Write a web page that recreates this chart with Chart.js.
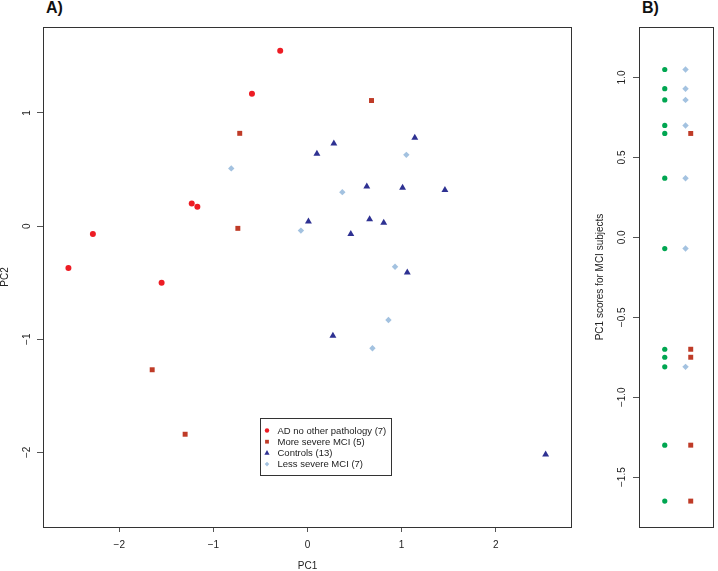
<!DOCTYPE html>
<html>
<head>
<meta charset="utf-8">
<script src="https://cdn.jsdelivr.net/npm/chart.js@4.4.1/dist/chart.umd.min.js"></script>
<style>
  body { margin: 0; background: #fff; width: 718px; height: 571px; overflow: hidden; }
  .panel { position: absolute; top: 0; }
  #wrapA { left: 0; width: 600px; height: 571px; }
  #wrapB { left: 588px; width: 130px; height: 571px; }
  .tag { position: absolute; top: 0; font: bold 16px/16px "Liberation Sans", Arial, sans-serif; color: #111; }
</style>
</head>
<body>
<div class="tag" style="left:46px">A)</div>
<div class="tag" style="left:642px">B)</div>
<div class="panel" id="wrapA"><canvas id="chartA" width="600" height="571"></canvas></div>
<div class="panel" id="wrapB"><canvas id="chartB" width="130" height="571"></canvas></div>
<script>
// --- Painel A: PCA (PC1 x PC2) ---
const groupLabels = ['AD no other pathology (7)', 'More severe MCI (5)', 'Controls (13)', 'Less severe MCI (7)'];

const adX = [-0.29, -0.59, -1.23, -1.17, -2.28, -2.54, -1.55];
const adY = [1.55, 1.17, 0.20, 0.17, -0.07, -0.37, -0.50];

const moreX = [-0.72, -0.74, 0.68, -1.65, -1.30];
const moreY = [0.82, -0.02, 1.11, -1.27, -1.84];

const ctrlX = [0.10, 0.28, 0.01, 0.46, 1.14, 0.63, 1.01, 1.46, 0.66, 0.81, 1.06, 0.27, 2.53];
const ctrlY = [0.64, 0.73, 0.04, -0.07, 0.78, 0.35, 0.34, 0.32, 0.06, 0.03, -0.41, -0.97, -2.02];

const lessX = [-0.81, 0.37, -0.07, 1.05, 0.93, 0.86, 0.69];
const lessY = [0.51, 0.30, -0.04, 0.63, -0.36, -0.83, -1.08];

const pcTicksX = [-2, -1, 0, 1, 2];
const pcTicksY = [-2, -1, 0, 1];

// --- Painel B: scores PC1 dos sujeitos MCI ---
const stripPos = [1, 2, 2.25];   // verde, menos severo, mais severo
const mciAll = [1.05, 0.93, 0.86, 0.70, 0.65, 0.37, -0.07, -0.70, -0.75, -0.81, -1.30, -1.65];
const mciLess = [1.05, 0.93, 0.86, 0.70, 0.37, -0.07, -0.81];
const mciMore = [0.65, -0.70, -0.75, -1.30, -1.65];
const stripTicks = [-1.5, -1.0, -0.5, 0.0, 0.5, 1.0];

const FONT = '"Liberation Sans", Arial, Helvetica, sans-serif';
Chart.defaults.font.family = FONT;
Chart.defaults.color = '#222';

const COR_AD = '#ed1c24';
const COR_MORE = '#bf3b27';
const COR_CTRL = '#2e3192';
const COR_LESS = '#a3c2e0';
const COR_ALL = '#00a651';

function fmt(v, dec) {
    return (v < 0 ? '\u2212' : '') + Math.abs(v).toFixed(dec);
}

function pares(xs, ys) {
    return xs.map((x, i) => ({ x: x, y: ys[i] }));
}

// desenha um marcador simples (usado na legenda)
function marcador(ctx, estilo, x, y, r, cor) {
    ctx.fillStyle = cor;
    ctx.beginPath();
    if (estilo === 'circle') {
        ctx.arc(x, y, r, 0, Math.PI * 2);
    } else if (estilo === 'rect') {
        ctx.rect(x - r, y - r, 2 * r, 2 * r);
    } else if (estilo === 'triangle') {
        ctx.moveTo(x, y - r * 1.1);
        ctx.lineTo(x + r, y + r * 0.7);
        ctx.lineTo(x - r, y + r * 0.7);
        ctx.closePath();
    } else {
        ctx.moveTo(x, y - r);
        ctx.lineTo(x + r, y);
        ctx.lineTo(x, y + r);
        ctx.lineTo(x - r, y);
        ctx.closePath();
    }
    ctx.fill();
}

// moldura em volta da area e rotulos do eixo y girados (estilo R)
const moldura = {
    id: 'moldura',
    afterDraw(chart, args, o) {
        const { ctx, chartArea: a, scales } = chart;
        ctx.save();
        ctx.strokeStyle = '#333';
        ctx.lineWidth = 1;
        ctx.strokeRect(Math.round(a.left) + 0.5, Math.round(a.top) + 0.5,
            Math.round(a.right - a.left) - 1, Math.round(a.bottom - a.top));
        ctx.fillStyle = '#222';
        ctx.font = '10px ' + FONT;
        ctx.textAlign = 'center';
        ctx.textBaseline = 'middle';
        o.ticks.forEach(v => {
            const y = scales.y.getPixelForValue(v);
            ctx.save();
            ctx.translate(o.labelX, y);
            ctx.rotate(-Math.PI / 2);
            ctx.fillText(fmt(v, o.dec), 0, 0);
            ctx.restore();
        });
        ctx.restore();
    }
};

// legenda dentro do grafico, ancorada em coordenadas dos dados
const legendaBox = {
    id: 'legendaBox',
    afterDraw(chart, args, o) {
        const { ctx, scales } = chart;
        const left = Math.round(scales.x.getPixelForValue(o.at[0])) + 0.5;
        const top = Math.round(scales.y.getPixelForValue(o.at[1])) + 0.5;
        ctx.save();
        ctx.font = '9.5px ' + FONT;
        const sets = chart.data.datasets;
        const textW = Math.max(...sets.map(d => ctx.measureText(d.label).width));
        const w = Math.round(17 + textW + 5);
        const h = 57;
        ctx.fillStyle = '#fff';
        ctx.fillRect(left, top, w, h);
        ctx.strokeStyle = '#333';
        ctx.lineWidth = 1;
        ctx.strokeRect(left, top, w, h);
        sets.forEach((d, i) => {
            const cy = top + 12 + i * 11.2;
            marcador(ctx, d.pointStyle, left + 6.5, cy, o.sizes[i], d.backgroundColor);
            ctx.fillStyle = '#222';
            ctx.textAlign = 'left';
            ctx.textBaseline = 'middle';
            ctx.fillText(d.label, left + 17, cy + 0.5);
        });
        ctx.restore();
    }
};

const eixoY = (min, max, ticks, largura, titulo, padTitulo) => ({
    type: 'linear',
    min: min,
    max: max,
    afterBuildTicks: s => { s.ticks = ticks.map(v => ({ value: v })); },
    afterFit: s => { s.width = largura; },
    ticks: { display: false },
    grid: { display: true, drawOnChartArea: false, drawTicks: true, tickLength: 6, color: '#555' },
    border: { display: false },
    title: { display: true, text: titulo, font: { size: 10, lineHeight: 1 }, color: '#222', padding: { top: padTitulo, bottom: 0 } }
});

new Chart(document.getElementById('chartA'), {
    type: 'scatter',
    data: {
        datasets: [
            { label: groupLabels[0], data: pares(adX, adY), pointStyle: 'circle', pointRadius: 3, backgroundColor: COR_AD, borderWidth: 0 },
            { label: groupLabels[1], data: pares(moreX, moreY), pointStyle: 'rect', pointRadius: 3.5, backgroundColor: COR_MORE, borderWidth: 0 },
            { label: groupLabels[2], data: pares(ctrlX, ctrlY), pointStyle: 'triangle', pointRadius: 4, backgroundColor: COR_CTRL, borderWidth: 0 },
            { label: groupLabels[3], data: pares(lessX, lessY), pointStyle: 'rectRot', pointRadius: 3.2, backgroundColor: COR_LESS, borderWidth: 0 }
        ]
    },
    options: {
        responsive: false,
        animation: false,
        layout: { padding: { top: 27, right: 28, left: 0, bottom: 0 } },
        scales: {
            x: {
                type: 'linear',
                min: -2.81,
                max: 2.81,
                afterBuildTicks: s => { s.ticks = pcTicksX.map(v => ({ value: v })); },
                afterFit: s => { s.height = 44; },
                ticks: { font: { size: 10 }, color: '#222', padding: 7, autoSkip: false, maxRotation: 0, callback: v => fmt(v, 0) },
                grid: { display: true, drawOnChartArea: false, drawTicks: true, tickLength: 5, color: '#555' },
                border: { display: false },
                title: { display: true, text: 'PC1', font: { size: 10, lineHeight: 1 }, color: '#222', padding: { top: 0, bottom: 0 } }
            },
            y: eixoY(-2.66, 1.76, pcTicksY, 43, 'PC2', 0)
        },
        plugins: {
            legend: { display: false },
            tooltip: { enabled: false },
            moldura: { ticks: pcTicksY, labelX: 27, dec: 0 },
            legendaBox: { at: [-0.5, -1.7], sizes: [2.2, 1.9, 2.6, 2.3] }
        }
    },
    plugins: [moldura, legendaBox]
});

new Chart(document.getElementById('chartB'), {
    type: 'scatter',
    data: {
        datasets: [
            { label: 'MCI', data: mciAll.map(v => ({ x: stripPos[0], y: v })), pointStyle: 'circle', pointRadius: 2.6, backgroundColor: COR_ALL, borderWidth: 0 },
            { label: groupLabels[3], data: mciLess.map(v => ({ x: stripPos[1], y: v })), pointStyle: 'rectRot', pointRadius: 3.2, backgroundColor: COR_LESS, borderWidth: 0 },
            { label: groupLabels[1], data: mciMore.map(v => ({ x: stripPos[2], y: v })), pointStyle: 'rect', pointRadius: 3.5, backgroundColor: COR_MORE, borderWidth: 0 }
        ]
    },
    options: {
        responsive: false,
        animation: false,
        layout: { padding: { top: 27, right: 1, left: 0, bottom: 44 } },
        scales: {
            x: { type: 'linear', min: -0.24, max: 3.37, display: false },
            y: eixoY(-1.812, 1.316, stripTicks, 51, 'PC1 scores for MCI subjects', 7)
        },
        plugins: {
            legend: { display: false },
            tooltip: { enabled: false },
            moldura: { ticks: stripTicks, labelX: 34, dec: 1 }
        }
    },
    plugins: [moldura]
});
</script>
</body>
</html>
